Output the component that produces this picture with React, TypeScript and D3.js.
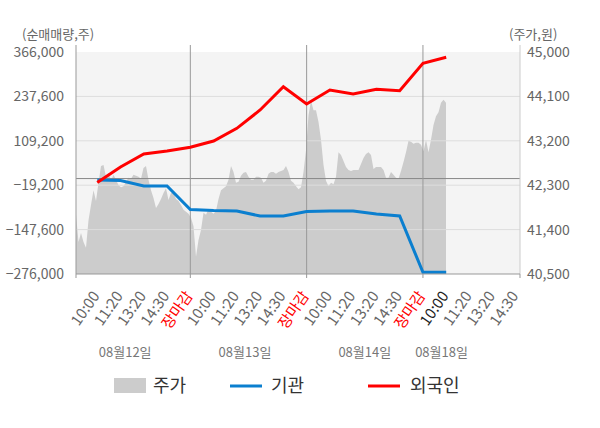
import * as d3 from 'd3';

const W = 600;
const H = 428;

// x-axis slot labels (4 trading days, last one partial)
const dayLabels = ['08월12일', '08월13일', '08월14일', '08월18일'];
const slotLabels = [
  '10:00', '11:20', '13:20', '14:30', '장마감',
  '10:00', '11:20', '13:20', '14:30', '장마감',
  '10:00', '11:20', '13:20', '14:30', '장마감',
  '10:00', '11:20', '13:20', '14:30',
];

// net buying volume (shares) at each slot
const institution = [
  -4000, -5600, -21500, -21500, -89500,
  -92400, -93800, -108300, -108300, -95200,
  -93800, -93800, -102500, -108300, -271100,
  -271100,
];
const foreign = [
  -11400, 33400, 71000, 79700, 90400,
  108600, 145300, 198300, 265600, 215600,
  256100, 244500, 258100, 254100, 333300,
  350700,
];

// share price (won), evenly sampled through the period
const price = [
  41700, 41150, 41330, 41150, 41030, 41590, 41900, 42200, 41980, 42350,
  42690, 42710, 42470, 42550, 42390, 42510, 42410, 42300, 42260, 42280,
  42370, 42450, 42430, 42510, 42490, 42470, 42430, 42650, 42690, 42410,
  42200, 42040, 41840, 41920, 42020, 42140, 42240, 42000, 42140, 42140,
  42020, 41980, 41900, 41800, 41760, 41720, 41640, 41470, 40850, 41190,
  41390, 41740, 41700, 41820, 41760, 41720, 41780, 42020, 42200, 42240,
  42280, 42410, 42690, 42570, 42350, 42370, 42490, 42550, 42570, 42470,
  42410, 42410, 42470, 42470, 42450, 42350, 42390, 42530, 42570, 42570,
  42530, 42570, 42590, 42610, 42690, 42570, 42390, 42350, 42280, 42220,
  42260, 42570, 43010, 43720, 44010, 43820, 43820, 43580, 43220, 42710,
  42390, 42280, 42350, 42320, 42470, 42970, 42910, 42790, 42670, 42610,
  42590, 42610, 42610, 42610, 42730, 42850, 42930, 42970, 42910, 42630,
  42670, 42670, 42670, 42610, 42450, 42450, 42570, 42510, 42450, 42430,
  42590, 42770, 42970, 43200, 43180, 43140, 43160, 43160, 43120, 42990,
  43220, 42970, 43220, 43520, 43700, 43780, 43970, 44030, 43970,
];

const leftTicks = [366000, 237600, 109200, -19200, -147600, -276000];
const rightTicks = [45000, 44100, 43200, 42300, 41400, 40500];

const FONT = '"Noto Sans CJK KR", "Noto Sans", sans-serif';

export default function App() {
  const left = 76;
  const right = 520;
  const top = 52;
  const bottom = 274;

  const yL = d3.scaleLinear().domain([-276000, 366000]).range([bottom, top]);
  const yR = d3.scaleLinear().domain([40500, 45000]).range([bottom, top]);
  const xs = d3.scaleLinear().domain([-1, 18]).range([74, 516]);
  const xp = d3.scaleLinear().domain([0, price.length - 1]).range([76, 446]);

  const area = d3
    .area<number>()
    .x((_, i) => xp(i))
    .y0(bottom)
    .y1((d) => yR(d));

  const line = d3
    .line<number>()
    .x((_, i) => xs(i))
    .y((d) => yL(d));

  const fmt = d3.format(',');
  const dayLines = [4, 9, 14];
  const dayPos = [1.2, 6.35, 11.5, 14.8];

  return (
    <svg
      width={W}
      height={H}
      style={{ position: 'absolute', left: 0, top: 0, background: '#fff' }}
      fontFamily={FONT}
    >
      <rect x={left} y={top} width={right - left} height={bottom - top} fill="#f4f4f4" />
      <path d={area(price) ?? ''} fill="#cccccc" />

      {leftTicks.slice(1, -1).map((t) => (
        <line key={t} x1={left} x2={right} y1={yL(t)} y2={yL(t)} stroke="#dddddd" strokeWidth={1} />
      ))}
      <line x1={left} x2={right} y1={yL(0)} y2={yL(0)} stroke="#888" strokeWidth={1} />
      {dayLines.map((s) => (
        <line key={s} x1={xs(s)} x2={xs(s)} y1={45} y2={bottom} stroke="#999" strokeWidth={1} />
      ))}

      <path d={line(institution) ?? ''} fill="none" stroke="#0b7fcf" strokeWidth={3} />
      <path d={line(foreign) ?? ''} fill="none" stroke="#ff0000" strokeWidth={3} />

      {/* axes frame */}
      <line x1={left} x2={left} y1={45} y2={bottom} stroke="#999" />
      <line x1={right} x2={right} y1={45} y2={bottom} stroke="#ccc" />
      <line x1={left} x2={right} y1={bottom} y2={bottom} stroke="#999" />
      {[left, ...dayLines.map((s) => xs(s)), right].map((x, i) => (
        <line key={i} x1={x} x2={x} y1={bottom} y2={bottom + 4} stroke="#999" />
      ))}

      {leftTicks.map((t) => (
        <text key={t} x={64} y={yL(t)} dy="0.35em" textAnchor="end" fontSize={14} fill="#666">
          {fmt(t)}
        </text>
      ))}
      {rightTicks.map((t) => (
        <text key={t} x={527} y={yR(t)} dy="0.35em" textAnchor="start" fontSize={14} fill="#666">
          {fmt(t)}
        </text>
      ))}
      <text x={22} y={34} dy="0.35em" fontSize={13} fill="#666">(순매매량,주)</text>
      <text x={509} y={34} dy="0.35em" fontSize={13} fill="#666">(주가,원)</text>

      {slotLabels.map((lab, i) => (
        <text
          key={i}
          transform={`translate(${xs(i) + 3},${bottom + 22}) rotate(-55)`}
          textAnchor="end"
          fontSize={15}
          fill={lab === '장마감' ? '#ff0000' : i === 15 ? '#222' : '#666'}
        >
          {lab}
        </text>
      ))}

      {dayLabels.map((d, i) => (
        <text key={d} x={xs(dayPos[i])} y={352} dy="0.35em" textAnchor="middle" fontSize={13} fill="#777">
          {d}
        </text>
      ))}

      {/* legend */}
      <rect x={114} y={378} width={32} height={15} fill="#cccccc" />
      <text x={153} y={386} dy="0.35em" fontSize={18} fill="#333">주가</text>
      <line x1={230} x2={262} y1={386} y2={386} stroke="#0b7fcf" strokeWidth={3} />
      <text x={271} y={386} dy="0.35em" fontSize={18} fill="#333">기관</text>
      <line x1={368} x2={400} y1={386} y2={386} stroke="#ff0000" strokeWidth={3} />
      <text x={410} y={386} dy="0.35em" fontSize={18} fill="#333">외국인</text>
    </svg>
  );
}
